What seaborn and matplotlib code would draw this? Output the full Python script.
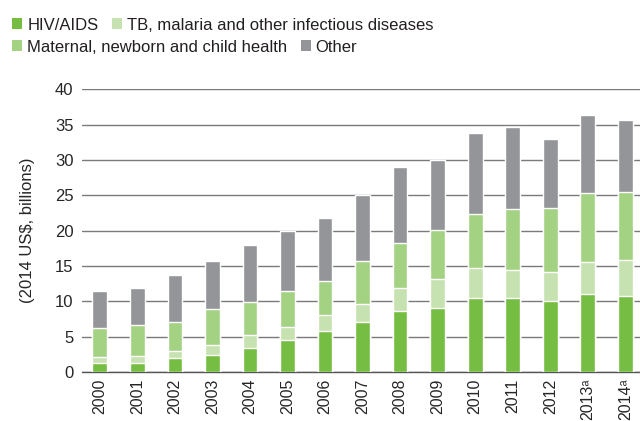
import numpy as np
import pandas as pd
import seaborn as sns
import matplotlib.pyplot as plt
from matplotlib.patches import Patch

# --- Data (2014 US$, billions) ---
years = ["2000", "2001", "2002", "2003", "2004", "2005", "2006", "2007",
         "2008", "2009", "2010", "2011", "2012", "2013", "2014"]
tick_labels = years[:13] + ["2013\u1d43", "2014\u1d43"]
hiv = [1.3, 1.3, 2.0, 2.45, 3.45, 4.55, 5.85, 7.1, 8.65, 9.1, 10.45, 10.45, 10.1, 11.0, 10.8]
tb = [0.85, 0.95, 0.95, 1.35, 1.85, 1.85, 2.2, 2.55, 3.2, 4.05, 4.3, 3.95, 4.1, 4.6, 5.1]
mnch = [4.05, 4.45, 4.15, 5.1, 4.55, 5.1, 4.8, 6.0, 6.35, 7.0, 7.6, 8.65, 9.05, 9.75, 9.55]
other = [5.3, 5.2, 6.6, 6.85, 8.1, 8.4, 8.95, 9.4, 10.85, 9.85, 11.45, 11.65, 9.7, 10.95, 10.25]

series = ["HIV/AIDS", "TB, malaria and other infectious diseases",
          "Maternal, newborn and child health", "Other"]
colors = ["#76be43", "#c6e2b0", "#a3d283", "#939598"]

sns.set_theme(style="white")
plt.rcParams['font.family'] = ['Liberation Sans', 'DejaVu Sans']
plt.rcParams['text.color'] = '#231f20'

df = pd.DataFrame({"year": years, "s0": hiv, "s1": tb, "s2": mnch, "s3": other})
tops = df[["s0", "s1", "s2", "s3"]].cumsum(axis=1)

fig = plt.figure(figsize=(6.4, 4.21), dpi=100)
ax = fig.add_axes([0.1277, 0.1164, 0.8723, 0.6714])

# draw stacked bars from the top layer down
for i in [3, 2, 1, 0]:
    sns.barplot(x=df["year"], y=tops[f"s{i}"], color=colors[i], width=0.39,
                saturation=1, ax=ax, zorder=3)

ax.set_xlim(-0.48, 14.39)
ax.set_ylim(0, 40)
ax.set_yticks(range(0, 41, 5))
ax.yaxis.grid(True, color="#7a7a7a", linewidth=1.0, zorder=0)
ax.set_axisbelow(True)
for side in ["top", "right", "left"]:
    ax.spines[side].set_visible(False)
ax.spines["bottom"].set_color("#555555")
ax.spines["bottom"].set_linewidth(1.0)
ax.set_xticks(range(len(years)))
ax.set_xticklabels(tick_labels, rotation=90, fontsize=11.5)
ax.tick_params(axis="x", length=0, pad=5)
ax.tick_params(axis="y", length=0, pad=6, labelsize=12)
ax.set_xlabel("")
ax.set_ylabel("(2014 US\\$, billions)", fontsize=12, labelpad=14)

handles = [Patch(facecolor=c, edgecolor="none") for c in colors]
leg_kw = dict(frameon=False, handlelength=0.6, handleheight=0.6,
              handletextpad=0.3, columnspacing=0.8, borderpad=0,
              borderaxespad=0, ncol=2, fontsize=12, loc="center left")
fig.legend(handles[:2], series[:2], bbox_to_anchor=(0.019, 0.9406), **leg_kw)
fig.legend(handles[2:], series[2:], bbox_to_anchor=(0.019, 0.888), **leg_kw)

fig.savefig("out.png", dpi=100)
